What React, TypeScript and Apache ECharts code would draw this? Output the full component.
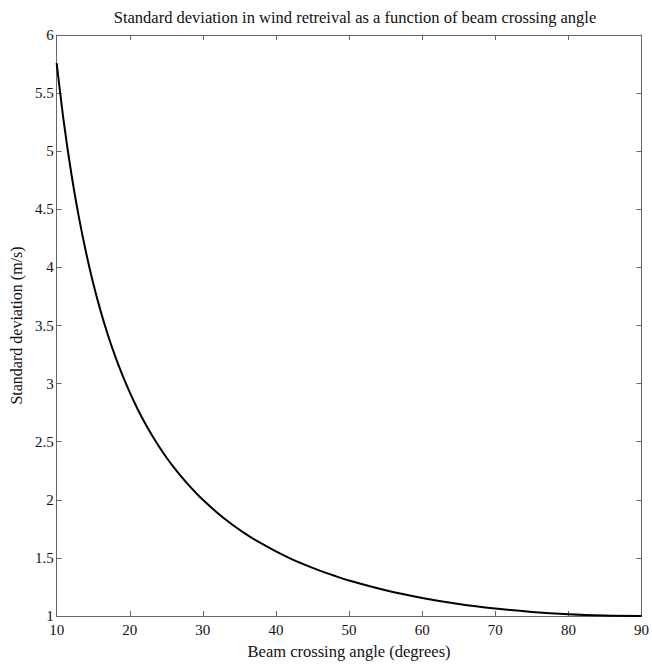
import React, { useEffect, useRef } from "react";
import * as echarts from "echarts";

const angles = [10, 11, 12, 13, 14, 15, 16, 17, 18, 19, 20, 21, 22, 23, 24, 25, 26, 27, 28, 29, 30, 32, 34, 36, 38, 40, 42, 44, 46, 48, 50, 55, 60, 65, 70, 75, 80, 85, 90];
const stdDev = [5.759, 5.241, 4.81, 4.445, 4.134, 3.864, 3.628, 3.42, 3.236, 3.072, 2.924, 2.79, 2.669, 2.559, 2.459, 2.366, 2.281, 2.203, 2.13, 2.063, 2.0, 1.887, 1.788, 1.701, 1.624, 1.556, 1.494, 1.44, 1.39, 1.346, 1.305, 1.221, 1.155, 1.103, 1.064, 1.035, 1.015, 1.004, 1.0];

const titleText = "Standard deviation in wind retreival as a function of beam crossing angle";
const xName = "Beam crossing angle (degrees)";
const yName = "Standard deviation (m/s)";

const FONT = "'Liberation Serif', 'Times New Roman', serif";
const AXIS = "#666";
const TEXT = "#111";

export default function App() {
  const ref = useRef<HTMLDivElement>(null);
  useEffect(() => {
    document.body.style.margin = "0";
    const chart = echarts.init(ref.current!, null, { renderer: "svg" });
    const axisCommon = {
      axisLine: { show: true, onZero: false, lineStyle: { color: AXIS, width: 1 } },
      axisTick: { show: true, inside: true, length: 5, lineStyle: { color: AXIS } },
      splitLine: { show: false },
    };
    chart.setOption({
      animation: false,
      backgroundColor: "#fff",
      title: {
        text: titleText,
        left: 350,
        textAlign: "center",
        top: 4,
        textStyle: { fontFamily: FONT, fontSize: 16.5, fontWeight: "normal", color: TEXT },
      },
      grid: { left: 56, right: 9, top: 35, bottom: 46, containLabel: false },
      xAxis: [
        {
          type: "value",
          min: 10,
          max: 90,
          interval: 10,
          name: xName,
          nameLocation: "middle",
          nameGap: 27,
          nameTextStyle: { fontFamily: FONT, fontSize: 16.5, color: TEXT },
          axisLabel: { fontFamily: FONT, fontSize: 15, color: TEXT, margin: 6 },
          ...axisCommon,
        },
        {
          type: "value",
          position: "top",
          min: 10,
          max: 90,
          interval: 10,
          axisLabel: { show: false },
          ...axisCommon,
        },
      ],
      yAxis: [
        {
          type: "value",
          min: 1,
          max: 6,
          interval: 0.5,
          name: yName,
          nameLocation: "middle",
          nameGap: 32,
          nameTextStyle: { fontFamily: FONT, fontSize: 16, color: TEXT },
          axisLabel: { fontFamily: FONT, fontSize: 15, color: TEXT, margin: 3 },
          ...axisCommon,
        },
        {
          type: "value",
          position: "right",
          min: 1,
          max: 6,
          interval: 0.5,
          axisLabel: { show: false },
          ...axisCommon,
        },
      ],
      series: [
        {
          type: "line",
          data: angles.map((a, i) => [a, stdDev[i]]),
          smooth: 0.3,
          showSymbol: false,
          lineStyle: { color: "#000", width: 2 },
        },
      ],
    });
    return () => chart.dispose();
  }, []);
  return <div ref={ref} style={{ width: 652, height: 665 }} />;
}
